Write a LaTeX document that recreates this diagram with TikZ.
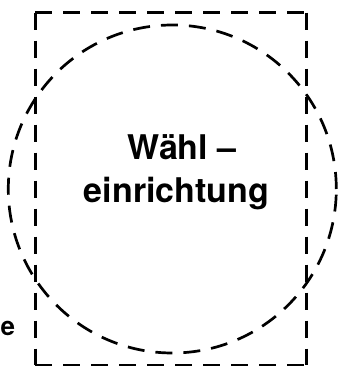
\documentclass[tikz,border=0pt]{standalone}
\usepackage{fontspec}
\setmainfont{TeX Gyre Heros}
\begin{document}
\begin{tikzpicture}[x=1pt,y=1pt,
  dashline/.style={line width=2.7pt, dash pattern=on 17pt off 11pt},
  lbl/.style={inner sep=0pt, anchor=base, font=\fontsize{34}{40}\selectfont\bfseries}]
\useasboundingbox (0,0) rectangle (338,368);
\draw[dashline] (35.5,355.3) -- (306.7,355.3);
\draw[dashline] (35.5,355.3) -- (35.5,3);
\draw[dashline] (306.7,355.3) -- (306.7,3);
\draw[dashline] (35.5,3) -- (306.7,3);
\draw[dashline] (172.3,179) circle[radius=164];
\node[lbl] (t1) at (182,208) {Wähl –};
\node[lbl] (t2) at (176.5,166) {einrichtung};
\node[inner sep=0pt, anchor=base west, font=\fontsize{26}{30}\selectfont\bfseries] (e) at (0.5,32) {e};
\end{tikzpicture}
\end{document}
